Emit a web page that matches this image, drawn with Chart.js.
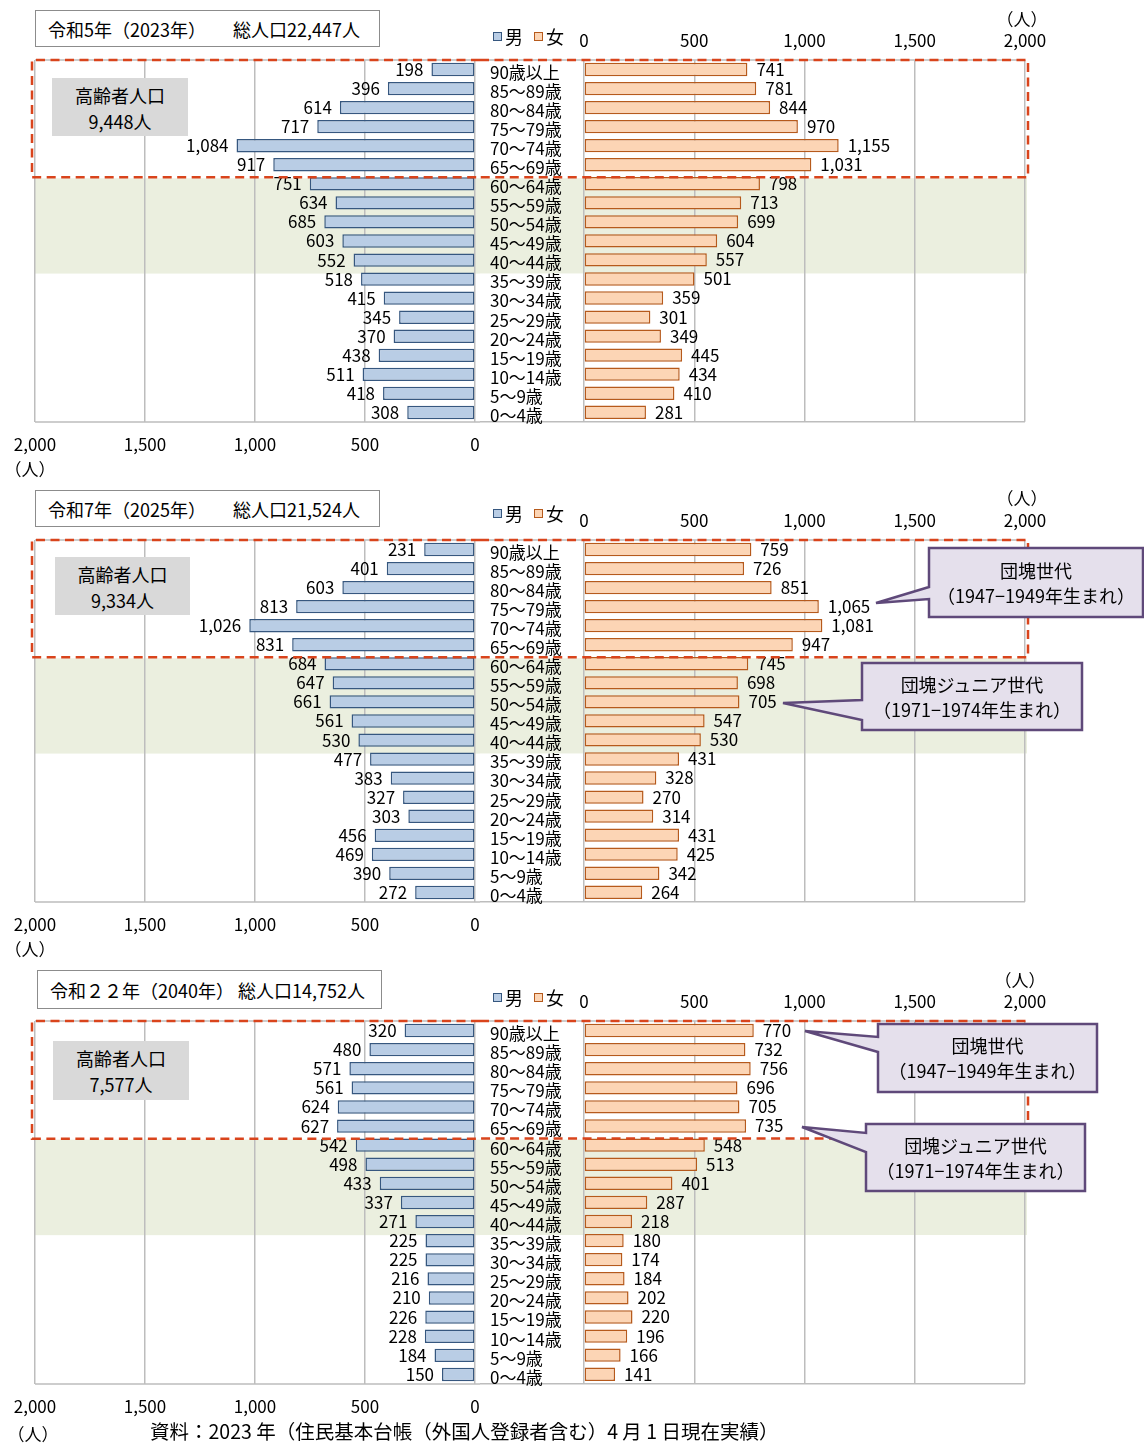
<!DOCTYPE html>
<html lang="ja">
<head>
<meta charset="utf-8">
<title>人口ピラミッド</title>
<script src="https://cdn.jsdelivr.net/npm/chart.js@4.4.0/dist/chart.umd.min.js"></script>
<style>
  html, body { margin: 0; padding: 0; background: #fff; }
  #stage { position: relative; width: 1144px; height: 1443px; overflow: hidden;
           font-family: "Noto Sans CJK JP", "Noto Sans", sans-serif; color: #000; }
  canvas { position: absolute; z-index: 1; }
  .deco { position: absolute; z-index: 3; white-space: pre; }
  .title { border: 1.5px solid #8c8c8c; background: #fff; box-sizing: border-box;
           display: flex; align-items: center; padding-left: 12px; font-size: 18px; }
  .elderly { background: #d9d9d9; box-sizing: border-box; text-align: center;
             font-size: 18px; line-height: 26px; padding-top: 4px; }
  .unit { font-size: 17px; transform: translate(-50%, -50%); }
  .legend { font-size: 18px; display: flex; align-items: center; transform: translateY(-50%); }
  .legend i { display: inline-block; width: 9px; height: 9px; box-sizing: border-box;
              border: 1.5px solid; margin-right: 3px; }
  .legend span { margin-right: 11px; }
  .callout-text { z-index: 5; text-align: center; font-size: 18px; line-height: 25px;
                  display: flex; flex-direction: column; justify-content: center; }
  svg.callouts { position: absolute; left: 0; top: 0; z-index: 4; }
  .source { font-size: 19.5px; transform: translateY(-50%); }
</style>
</head>
<body>
<div id="stage"></div>
<script>
// ---- data ----------------------------------------------------------------
const ageGroups = ['90歳以上', '85～89歳', '80～84歳', '75～79歳', '70～74歳', '65～69歳',
  '60～64歳', '55～59歳', '50～54歳', '45～49歳', '40～44歳', '35～39歳', '30～34歳',
  '25～29歳', '20～24歳', '15～19歳', '10～14歳', '5～9歳', '0～4歳'];

const axisTicks = [0, 500, 1000, 1500, 2000];
const axisTickLabels = ['0', '500', '1,000', '1,500', '2,000'];

const male2023   = [198, 396, 614, 717, 1084, 917, 751, 634, 685, 603, 552, 518, 415, 345, 370, 438, 511, 418, 308];
const female2023 = [741, 781, 844, 970, 1155, 1031, 798, 713, 699, 604, 557, 501, 359, 301, 349, 445, 434, 410, 281];

const male2025   = [231, 401, 603, 813, 1026, 831, 684, 647, 661, 561, 530, 477, 383, 327, 303, 456, 469, 390, 272];
const female2025 = [759, 726, 851, 1065, 1081, 947, 745, 698, 705, 547, 530, 431, 328, 270, 314, 431, 425, 342, 264];

const male2040   = [320, 480, 571, 561, 624, 627, 542, 498, 433, 337, 271, 225, 225, 216, 210, 226, 228, 184, 150];
const female2040 = [770, 732, 756, 696, 705, 735, 548, 513, 401, 287, 218, 180, 174, 184, 202, 220, 196, 166, 141];

const panelTitles = ['令和5年（2023年）　　総人口22,447人', '令和7年（2025年）　　総人口21,524人', '令和２２年（2040年） 総人口14,752人'];
const elderlyTotals = ['9,448人', '9,334人', '7,577人'];

const legendLabels = ['男', '女'];
const unitLabel = '（人）';
const boomerLabel = ['団塊世代', '（1947−1949年生まれ）'];
const juniorLabel = ['団塊ジュニア世代', '（1971−1974年生まれ）'];
const sourceNote = '資料：2023 年（住民基本台帳（外国人登録者含む）4 月 1 日現在実績）';

// rows 0..5 are 65+, rows 6..10 are 40–64
const lastElderlyRow = 5;
const bandFirstRow = 6, bandLastRow = 10;

// ---- styling ----------------------------------------------------------------
const maleFill = '#b9cde5', maleLine = '#36577f';
const femaleFill = '#fcd5b5', femaleLine = '#b65a1c';
const gridColor = '#bdbdbd';
const bandColor = '#ebefdf';
const dashColor = '#d9441c';
const fontFamily = '"Noto Sans CJK JP", "Noto Sans", sans-serif';

Chart.defaults.font.family = fontFamily;
Chart.defaults.color = '#000';

// plot geometry shared by the three pyramids
const LEFT_AREA = [35, 475];     // male plot, page x
const RIGHT_AREA = [584, 1025];  // female plot, page x
const SPLIT = 480;               // border between the two canvases

const panels = [
  { male: male2023, female: female2023, top: 60, bottom: 422,
    titleBox: [35, 10, 345, 37], elderlyBox: [52, 78, 136, 58],
    legendY: 36, unitTop: [1022, 18], unitBottom: [30, 468], callouts: [] },
  { male: male2025, female: female2025, top: 540, bottom: 902,
    titleBox: [35, 490, 345, 37], elderlyBox: [55, 557, 135, 58],
    legendY: 513, unitTop: [1022, 497], unitBottom: [30, 948],
    callouts: [
      { text: boomerLabel, box: [929, 548, 1143, 617], tail: [587, 599], tip: [876, 603] },
      { text: juniorLabel, box: [862, 663, 1082, 730], tail: [700, 720], tip: [783, 703] }
    ] },
  { male: male2040, female: female2040, top: 1021, bottom: 1384,
    titleBox: [37, 970, 345, 39], elderlyBox: [53, 1041, 136, 59],
    legendY: 997, unitTop: [1020, 979], unitBottom: [33, 1433],
    callouts: [
      { text: boomerLabel, box: [878, 1024, 1097, 1092], tail: [1037, 1052], tip: [805, 1031] },
      { text: juniorLabel, box: [866, 1124, 1085, 1191], tail: [1133, 1152], tip: [802, 1127] }
    ] }
];

const stage = document.getElementById('stage');

// shading, frame lines, value labels and the dashed 65+ outline
const framePlugin = {
  id: 'frame',
  beforeDraw(chart, args, opts) {
    const { ctx, chartArea: a, scales: { y } } = chart;
    const x0 = opts.side === 'left' ? a.left : 0;
    const x1 = opts.side === 'left' ? chart.width : a.right;
    const half = (y.getPixelForValue(1) - y.getPixelForValue(0)) / 2;
    const bandTop = y.getPixelForValue(bandFirstRow) - half + 4;
    const bandBottom = y.getPixelForValue(bandLastRow) + half + 4;
    ctx.save();
    ctx.fillStyle = bandColor;
    ctx.fillRect(x0, bandTop, x1 - x0 + (opts.side === 'right' ? 2 : 0), bandBottom - bandTop);
    ctx.strokeStyle = gridColor;
    ctx.lineWidth = 1.5;
    ctx.beginPath();
    ctx.moveTo(x0, a.top); ctx.lineTo(x1, a.top);
    ctx.moveTo(x0, a.bottom); ctx.lineTo(x1, a.bottom);
    ctx.stroke();
    ctx.restore();
  },
  afterDatasetsDraw(chart, args, opts) {
    const { ctx } = chart;
    const meta = chart.getDatasetMeta(0);
    const values = chart.data.datasets[0].data;
    ctx.save();
    ctx.font = '17px ' + fontFamily;
    ctx.fillStyle = '#000';
    ctx.textBaseline = 'middle';
    meta.data.forEach((bar, i) => {
      const txt = values[i].toLocaleString('en-US');
      if (opts.side === 'left') {
        ctx.textAlign = 'right';
        ctx.fillText(txt, bar.x - 8, bar.y);
      } else {
        ctx.textAlign = 'left';
        ctx.fillText(txt, bar.x + 9, bar.y);
      }
    });
    ctx.restore();
  },
  afterDraw(chart, args, opts) {
    const { ctx, chartArea: a, scales: { y } } = chart;
    const half = (y.getPixelForValue(1) - y.getPixelForValue(0)) / 2;
    const top = a.top;
    const bottom = y.getPixelForValue(lastElderlyRow) + half + 3;
    ctx.save();
    ctx.strokeStyle = dashColor;
    ctx.lineWidth = 2.5;
    ctx.setLineDash([9, 5.5]);
    ctx.beginPath();
    if (opts.side === 'left') {
      const xl = a.left - 3;
      ctx.moveTo(chart.width, top); ctx.lineTo(xl, top); ctx.lineTo(xl, bottom); ctx.lineTo(chart.width, bottom);
    } else {
      const xr = a.right + 3;
      ctx.moveTo(0, top); ctx.lineTo(xr, top); ctx.lineTo(xr, bottom); ctx.lineTo(0, bottom);
    }
    ctx.stroke();
    ctx.restore();
  }
};

function addCanvas(left, top, w, h) {
  const c = document.createElement('canvas');
  c.width = w; c.height = h;
  c.style.left = left + 'px'; c.style.top = top + 'px';
  c.style.width = w + 'px'; c.style.height = h + 'px';
  stage.appendChild(c);
  return c;
}

function addDeco(cls, x, y, html, extra) {
  const d = document.createElement('div');
  d.className = 'deco ' + cls;
  d.style.left = x + 'px'; d.style.top = y + 'px';
  if (extra) Object.assign(d.style, extra);
  d.innerHTML = html;
  stage.appendChild(d);
  return d;
}

const tickFont = { size: 17, family: fontFamily };
const tickLabel = v => axisTickLabels[axisTicks.indexOf(v)];

function xAxis(reverse, position, height, padding) {
  return {
    type: 'linear', position, reverse, min: axisTicks[0], max: axisTicks[axisTicks.length - 1],
    ticks: { stepSize: 500, callback: tickLabel, font: tickFont, color: '#000', padding,
             maxRotation: 0, autoSkip: false },
    grid: { color: gridColor, lineWidth: 1.5, drawTicks: false },
    border: { display: false },
    afterFit: s => {
      s.height = height;
      // the outer tick labels sit inside the fixed layout padding
      s.paddingLeft = 0;
      s.paddingRight = 0;
    }
  };
}

const svgNS = 'http://www.w3.org/2000/svg';
const svg = document.createElementNS(svgNS, 'svg');
svg.setAttribute('class', 'callouts');
svg.setAttribute('width', 1144);
svg.setAttribute('height', 1443);
stage.appendChild(svg);

panels.forEach((p, k) => {
  const span = p.bottom - p.top;

  // male side
  const lc = addCanvas(0, p.top - 10, SPLIT, span + 10 + 34 + 4);
  new Chart(lc, {
    type: 'bar',
    data: { labels: ageGroups, datasets: [{
      data: p.male, backgroundColor: maleFill, borderColor: maleLine, borderWidth: 1.5,
      borderSkipped: false, barPercentage: 0.7, categoryPercentage: 1 }] },
    options: {
      indexAxis: 'y', responsive: false, animation: false, events: [],
      layout: { padding: { left: LEFT_AREA[0], right: SPLIT - LEFT_AREA[1], top: 10, bottom: 4 } },
      plugins: { legend: { display: false }, tooltip: { enabled: false }, frame: { side: 'left' } },
      scales: {
        x: xAxis(true, 'bottom', 34, 12),
        y: { type: 'category', display: false }
      }
    },
    plugins: [framePlugin]
  });

  // female side, age labels on its left axis
  const rc = addCanvas(SPLIT, p.top - 40, 1144 - SPLIT, span + 40 + 10);
  new Chart(rc, {
    type: 'bar',
    data: { labels: ageGroups, datasets: [{
      data: p.female, backgroundColor: femaleFill, borderColor: femaleLine, borderWidth: 1.5,
      borderSkipped: false, barPercentage: 0.7, categoryPercentage: 1 }] },
    options: {
      indexAxis: 'y', responsive: false, animation: false, events: [],
      layout: { padding: { left: 10, right: 1144 - RIGHT_AREA[1], top: 10, bottom: 10 } },
      plugins: { legend: { display: false }, tooltip: { enabled: false }, frame: { side: 'right' } },
      scales: {
        x: xAxis(false, 'top', 30, 9),
        y: {
          type: 'category', position: 'left',
          ticks: { crossAlign: 'far', padding: 0, labelOffset: 3, font: tickFont, color: '#000', autoSkip: false },
          grid: { display: false }, border: { display: false },
          afterFit: s => { s.width = RIGHT_AREA[0] - SPLIT - 10; }
        }
      }
    },
    plugins: [framePlugin]
  });

  // heading, legend, units, 65+ total
  const [tx, ty, tw, th] = p.titleBox;
  addDeco('title', tx, ty, panelTitles[k], { width: tw + 'px', height: th + 'px' });
  addDeco('legend', 493, p.legendY,
    `<i style="background:${maleFill};border-color:${maleLine}"></i><span>${legendLabels[0]}</span>` +
    `<i style="background:${femaleFill};border-color:${femaleLine}"></i><span>${legendLabels[1]}</span>`);
  addDeco('unit', p.unitTop[0], p.unitTop[1], unitLabel);
  addDeco('unit', p.unitBottom[0], p.unitBottom[1], unitLabel);
  const [ex, ey, ew, eh] = p.elderlyBox;
  addDeco('elderly', ex, ey, '高齢者人口<br>' + elderlyTotals[k], { width: ew + 'px', height: eh + 'px' });

  // generation call-outs
  p.callouts.forEach(c => {
    const [x0, y0, x1, y1] = c.box;
    const path = document.createElementNS(svgNS, 'path');
    path.setAttribute('d', `M${x0},${y0} H${x1} V${y1} H${x0} V${c.tail[1]} L${c.tip[0]},${c.tip[1]} L${x0},${c.tail[0]} Z`);
    path.setAttribute('fill', '#e5e0ec');
    path.setAttribute('stroke', '#5f497a');
    path.setAttribute('stroke-width', '2.5');
    path.setAttribute('stroke-linejoin', 'miter');
    svg.appendChild(path);
    addDeco('callout-text', x0, y0, c.text.join('<br>'),
      { width: (x1 - x0) + 'px', height: (y1 - y0) + 'px' });
  });
});

addDeco('source', 150, 1430, sourceNote);
</script>
</body>
</html>
